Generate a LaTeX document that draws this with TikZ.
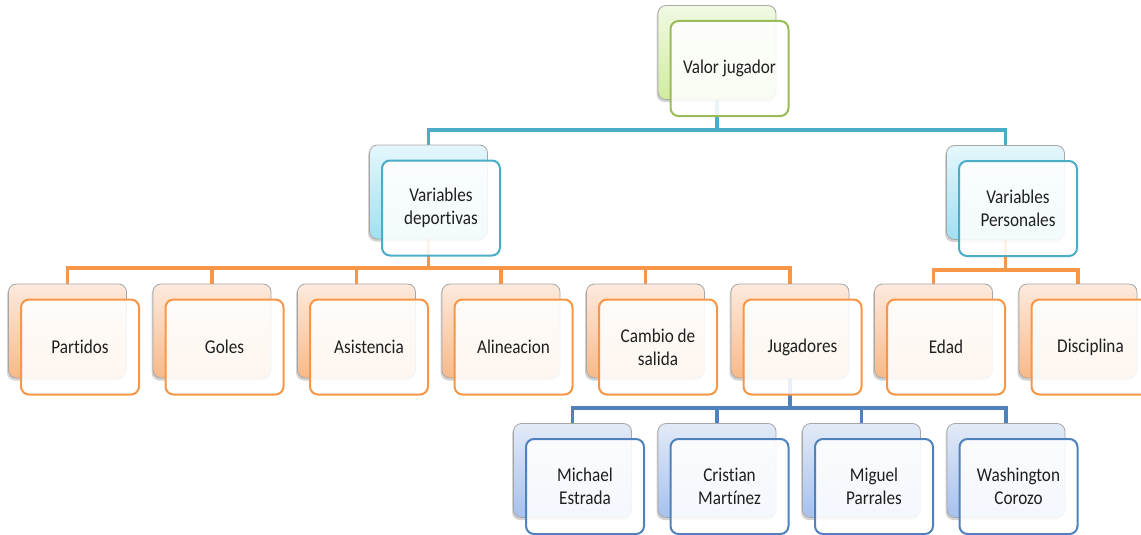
\documentclass[tikz,border=0pt]{standalone}
\usepackage{fontspec}
\setmainfont{Carlito}[Ligatures=NoCommon, FakeStretch=0.88]
\usetikzlibrary{shadows,backgrounds}
\definecolor{grn}{HTML}{9BBB59}
\definecolor{grntop}{HTML}{F1F9E3}
\definecolor{grnbot}{HTML}{D0EC9E}
\definecolor{cyn}{HTML}{4BACC6}
\definecolor{cyntop}{HTML}{E4F7FC}
\definecolor{cynbot}{HTML}{A2DFF2}
\definecolor{org}{HTML}{F79646}
\definecolor{orgtop}{HTML}{FDEADD}
\definecolor{orgbot}{HTML}{F8B989}
\definecolor{dbl}{HTML}{4F81BD}
\definecolor{dbltop}{HTML}{E2EAF7}
\definecolor{dblbot}{HTML}{A6C1EE}
\definecolor{txt}{HTML}{1F1F1F}
\tikzset{
  backbox/.style={draw=gray!70, line width=0.8pt, rounded corners=8pt,
    minimum width=118pt, minimum height=94pt, inner sep=0pt,
    top color=#1top, bottom color=#1bot,
    drop shadow={shadow xshift=-1.5pt, shadow yshift=-2.5pt, opacity=0.35}},
  frontbox/.style={draw=#1, line width=2pt, rounded corners=8pt,
    fill=white, fill opacity=0.88, text opacity=1,
    minimum width=118pt, minimum height=95pt, inner sep=0pt,
    text width=108pt, align=flush center, text=txt,
    font=\fontsize{19.5}{23}\selectfont},
  link/.style={draw=#1, line width=3.5pt},
}
\newcommand{\twobox}[5]{%
  \node[backbox=#4] (#1-b) at (#2,#3) {};
  \node[frontbox=#4] (#1) at ([xshift=12.5pt,yshift=-16pt]#1-b.center) {#5};
}
\begin{document}
\begin{tikzpicture}[x=1pt,y=-1pt]
\useasboundingbox (0,0) rectangle (1141,535);
\clip (0,0) rectangle (1141,535);
% level 1
\twobox{top}{717}{52.5}{grn}{Valor jugador}
% level 2
\twobox{vd}{428.5}{192}{cyn}{Variables\\deportivas}
\twobox{vp}{1005.5}{192.5}{cyn}{Variables\\Personales}
% level 3
\twobox{par}{67.5}{331}{org}{Partidos}
\twobox{gol}{212}{331}{org}{Goles}
\twobox{asi}{356.5}{331}{org}{Asistencia}
\twobox{ali}{501}{331}{org}{Alineacion}
\twobox{cam}{645.5}{331}{org}{Cambio de\\salida}
\twobox{jug}{790}{331}{org}{Jugadores}
\twobox{eda}{933.5}{331}{org}{Edad}
\twobox{dis}{1078}{331}{org}{Disciplina}
% level 4
\twobox{mic}{572.5}{470.5}{dbl}{Michael\\Estrada}
\twobox{cri}{717}{470.5}{dbl}{Cristian\\Martínez}
\twobox{mig}{861.5}{470.5}{dbl}{Miguel\\Parrales}
\twobox{was}{1006}{470.5}{dbl}{Washington\\Corozo}
% bus coordinates
\coordinate (bus1) at (0,130);
\coordinate (bus2) at (0,268);
\coordinate (bus3) at (0,270);
\coordinate (bus4) at (0,408);
\begin{scope}[on background layer]
  \draw[link=cyn] (top-b.south) -- (top-b.south |- bus1) -| (vd-b.north);
  \draw[link=cyn] (top-b.south |- bus1) -| (vp-b.north);
  \foreach \c in {par,gol,asi,ali,cam,jug}{
    \draw[link=org] (vd-b.south) -- (vd-b.south |- bus2) -| (\c-b.north);
  }
  \foreach \c in {eda,dis}{
    \draw[link=org] (vp-b.south) -- (vp-b.south |- bus3) -| (\c-b.north);
  }
  \foreach \c in {mic,cri,mig,was}{
    \draw[link=dbl] (jug-b.south) -- (jug-b.south |- bus4) -| (\c-b.north);
  }
\end{scope}
\end{tikzpicture}
\end{document}
